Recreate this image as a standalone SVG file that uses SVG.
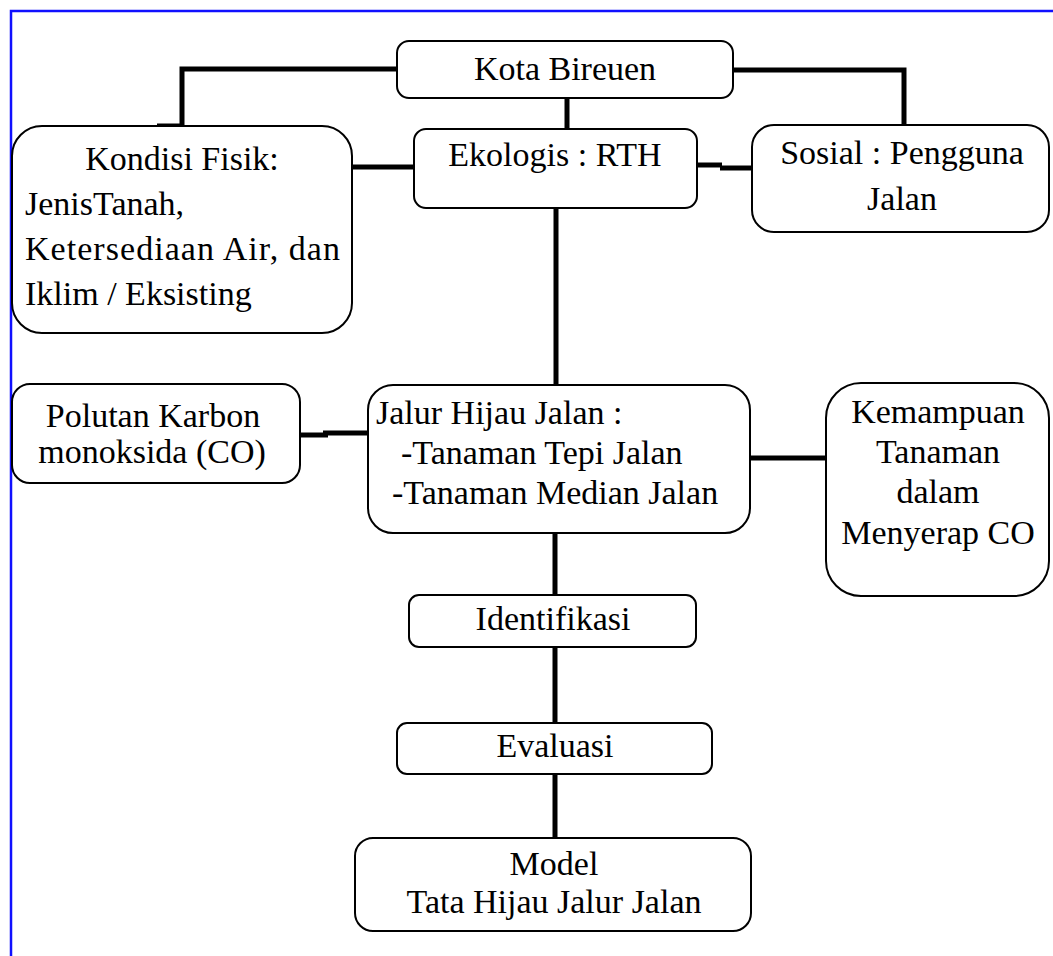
<svg xmlns="http://www.w3.org/2000/svg" width="1053" height="956" viewBox="0 0 1053 956">
<style>
.box{fill:#fff;stroke:#000;stroke-width:2}
.t{font-family:"Liberation Serif","Times New Roman",serif;font-size:34px;fill:#000}
.c{text-anchor:middle}
.ln{fill:none;stroke:#000;stroke-width:5}
</style>
<rect width="1053" height="956" fill="#fff"/>
<g id="frame"><path d="M11,956 V11 H1053" fill="none" stroke="#1010ff" stroke-width="2.5"/></g>
<g id="connectors">
<path class="ln" d="M397,69 H182 V126"/>
<path class="ln" d="M157,126 H182"/>
<path class="ln" d="M733,70 H904 V125"/>
<path class="ln" stroke-width="4" d="M567,91 V129"/>
<path class="ln" d="M352,167 H414"/>
<path class="ln" d="M697,165 H722"/>
<path class="ln" d="M720,168 H752"/>
<path class="ln" d="M556,208 V385"/>
<path class="ln" d="M298,435 H328"/>
<path class="ln" stroke-width="4" d="M323,433 H373"/>
<path class="ln" d="M751,458 H826"/>
<path class="ln" d="M555,534 V595"/>
<path class="ln" d="M555,647 V723"/>
<path class="ln" d="M555,774 V838"/>
</g>
<g id="kota"><rect class="box" x="397" y="41" width="336" height="57" rx="12"/><text class="t c" x="565" y="80">Kota Bireuen</text></g>
<g id="ekologis"><rect class="box" x="414" y="129" width="283" height="79" rx="12"/><text class="t c" x="555" y="166">Ekologis : RTH</text></g>
<g id="kondisi"><rect class="box" x="12" y="126" width="340" height="207" rx="30"/>
<text class="t c" x="182" y="170">Kondisi Fisik:</text>
<text class="t" x="25" y="215">JenisTanah,</text>
<text class="t" x="25" y="260" textLength="315" lengthAdjust="spacing">Ketersediaan  Air,  dan</text>
<text class="t" x="25" y="305">Iklim / Eksisting</text></g>
<g id="sosial"><rect class="box" x="752" y="125" width="297" height="107" rx="22"/>
<text class="t c" x="902" y="164">Sosial : Pengguna</text>
<text class="t c" x="902" y="210">Jalan</text></g>
<g id="polutan"><rect class="box" x="12" y="384" width="288" height="99" rx="18"/>
<text class="t c" x="153" y="427">Polutan Karbon</text>
<text class="t c" x="152" y="463">monoksida (CO)</text></g>
<g id="jalur"><rect class="box" x="368" y="385" width="382" height="148" rx="25"/>
<text class="t" x="376" y="424">Jalur Hijau Jalan :</text>
<text class="t" x="401" y="464">-Tanaman Tepi Jalan</text>
<text class="t" x="392" y="504">-Tanaman Median Jalan</text></g>
<g id="kemampuan"><rect class="box" x="826" y="383" width="223" height="213" rx="35"/>
<text class="t c" x="938" y="423">Kemampuan</text>
<text class="t c" x="938" y="463">Tanaman</text>
<text class="t c" x="938" y="503">dalam</text>
<text class="t c" x="938" y="544">Menyerap CO</text></g>
<g id="identifikasi"><rect class="box" x="409" y="595" width="287" height="52" rx="10"/><text class="t c" x="553" y="630">Identifikasi</text></g>
<g id="evaluasi"><rect class="box" x="397" y="723" width="315" height="51" rx="10"/><text class="t c" x="555" y="757">Evaluasi</text></g>
<g id="model"><rect class="box" x="355" y="838" width="396" height="93" rx="18"/>
<text class="t c" x="554" y="875">Model</text>
<text class="t c" x="554" y="913">Tata Hijau Jalur Jalan</text></g>
</svg>
